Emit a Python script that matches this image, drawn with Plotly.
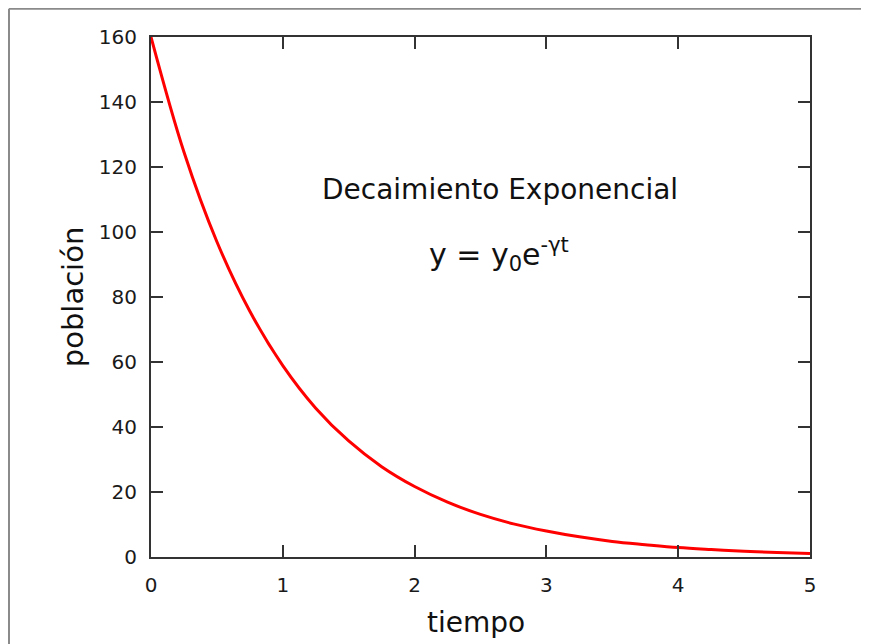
import plotly.graph_objects as go

# Values
tiempo = [0.0, 0.25, 0.5, 0.75, 1.0, 1.25, 1.5, 1.75, 2.0, 2.25, 2.5,
          2.75, 3.0, 3.25, 3.5, 3.75, 4.0, 4.25, 4.5, 4.75, 5.0]
poblacion = [160, 124.6, 97.0, 75.6, 58.9, 45.8, 35.7, 27.8, 21.7, 16.9, 13.1,
             10.2, 8.0, 6.2, 4.8, 3.8, 2.9, 2.3, 1.8, 1.4, 1.1]

x_ticks = [0, 1, 2, 3, 4, 5]
y_ticks = [0, 20, 40, 60, 80, 100, 120, 140, 160]

FONT = "DejaVu Sans"
AXC = "#333333"

fig = go.Figure()
fig.add_trace(go.Scatter(
    x=tiempo, y=poblacion, mode="lines",
    line=dict(color="#ff0000", width=3, shape="spline", smoothing=1.0),
    showlegend=False, hoverinfo="skip", cliponaxis=True,
))

axis_common = dict(
    showgrid=False, zeroline=False, showline=True, linecolor=AXC, linewidth=2,
    mirror="ticks", ticks="inside", ticklen=12, tickwidth=2, tickcolor=AXC,
    tickfont=dict(family=FONT, size=20, color="#1a1a1a"),
)

BORDER = dict(color="#8a8a8a", width=2)

fig.update_layout(
    width=861, height=636,
    margin=dict(l=143, r=59, t=29, b=87),
    paper_bgcolor="white", plot_bgcolor="white",
    xaxis=dict(range=[0, 5], tickvals=x_ticks, ticklabelstandoff=9, **axis_common),
    yaxis=dict(range=[0, 160], tickvals=y_ticks, ticklabelstandoff=8, **axis_common),
    font=dict(family=FONT, color="#1a1a1a"),
    annotations=[
        dict(text="tiempo", x=0.493, y=-0.125, xref="paper", yref="paper",
             showarrow=False, font=dict(family=FONT, size=28, color="#111111"),
             xanchor="center", yanchor="middle"),
        dict(text="población", x=-0.118, y=0.5, xref="paper", yref="paper",
             showarrow=False, textangle=-90,
             font=dict(family=FONT, size=29, color="#111111"),
             xanchor="center", yanchor="middle"),
        dict(text="Decaimiento Exponencial", x=2.65, y=113.0, xref="x", yref="y",
             showarrow=False, font=dict(family=FONT, size=28, color="#111111"),
             xanchor="center", yanchor="middle"),
        dict(text="y = y<sub>0</sub>e<sup>-γt</sup>", x=2.64, y=93.0, xref="x", yref="y",
             showarrow=False, font=dict(family=FONT, size=30, color="#111111"),
             xanchor="center", yanchor="middle"),
    ],
    shapes=[
        dict(type="line", xref="paper", yref="paper",
             x0=-0.2155, x1=1.2, y0=1.0545, y1=1.0545, line=BORDER, layer="below"),
        dict(type="line", xref="paper", yref="paper",
             x0=-0.2155, x1=-0.2155, y0=-0.3, y1=1.0545, line=BORDER, layer="below"),
    ],
)

fig.write_html("out.html")
